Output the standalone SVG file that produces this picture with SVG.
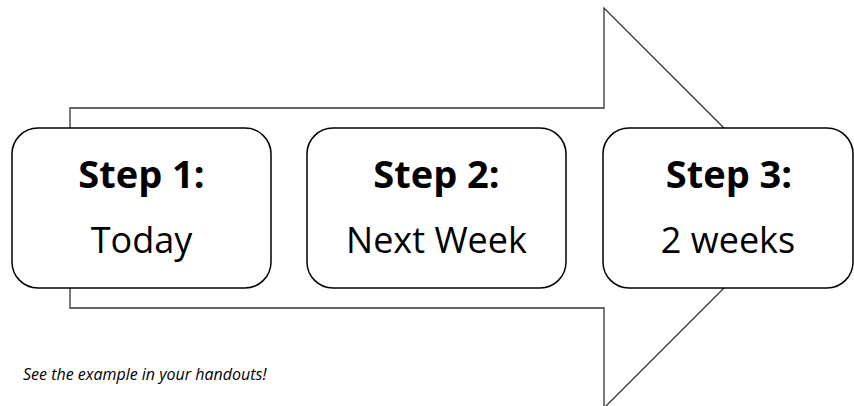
<svg xmlns="http://www.w3.org/2000/svg" width="854" height="406" viewBox="0 0 854 406">
  <style>
    .arrow { fill: #ffffff; stroke: #333333; stroke-width: 1.3; }
    .box { fill: #ffffff; stroke: #000000; stroke-width: 1.5; }
    .title { font-family: "Open Sans", "Noto Sans", sans-serif; font-weight: 700; font-size: 38px; fill: #000000; text-anchor: middle; }
    .sub { font-family: "Open Sans", "Noto Sans", sans-serif; font-size: 36px; fill: #000000; text-anchor: middle; }
    .note { font-family: "Open Sans", "Noto Sans", sans-serif; font-style: italic; font-size: 16px; fill: #000000; }
  </style>
  <rect width="854" height="406" fill="#ffffff"/>

  <!-- large block arrow behind the steps -->
  <g id="connectors">
    <polygon class="arrow" points="70,108 604,108 604,8 804,208 604,408 604,308 70,308"/>
  </g>

  <g id="step1">
    <rect class="box" x="12" y="128" width="259" height="160" rx="26" ry="26"/>
    <text class="title" x="141.5" y="188">Step 1:</text>
    <text class="sub" x="141.5" y="253">Today</text>
  </g>

  <g id="step2">
    <rect class="box" x="307" y="128" width="259" height="160" rx="26" ry="26"/>
    <text class="title" x="436.5" y="188">Step 2:</text>
    <text class="sub" x="436.5" y="253">Next Week</text>
  </g>

  <g id="step3">
    <rect class="box" x="603" y="128" width="250" height="160" rx="26" ry="26"/>
    <text class="title" x="729" y="188">Step 3:</text>
    <text class="sub" x="728" y="253">2 weeks</text>
  </g>

  <g id="note">
    <text class="note" x="23" y="380">See the example in your handouts!</text>
  </g>
</svg>
